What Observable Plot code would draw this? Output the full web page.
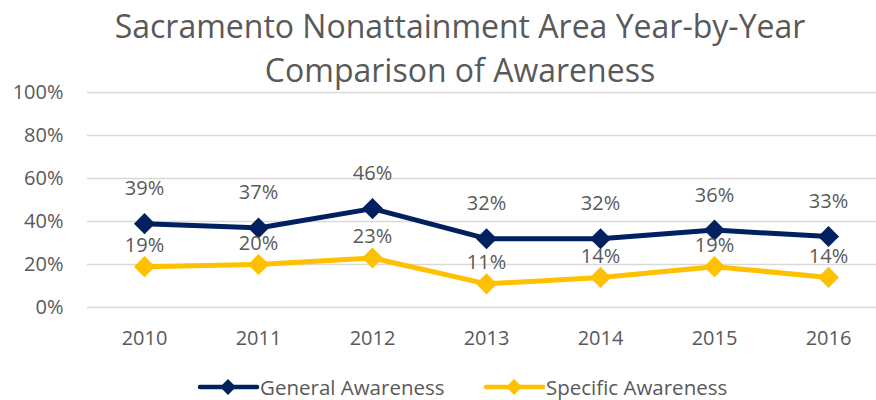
<!DOCTYPE html>
<html><head><meta charset="utf-8">
<script src="https://cdn.jsdelivr.net/npm/d3@7"></script>
<script src="https://cdn.jsdelivr.net/npm/@observablehq/plot@0.6"></script>
<style>body{margin:0;background:#fff}</style>
</head><body><div id="chart"></div><script>
const years = ["2010","2011","2012","2013","2014","2015","2016"];
const generalAwareness = [0.39,0.37,0.46,0.32,0.32,0.36,0.33];
const specificAwareness = [0.19,0.20,0.23,0.11,0.14,0.19,0.14];
const seriesNames = ["General Awareness","Specific Awareness"];
const seriesColors = ["#002060","#FFC000"];
const yTicks = [0,0.2,0.4,0.6,0.8,1];
const titleLines = ["Sacramento Nonattainment Area Year-by-Year","Comparison of Awareness"];

const general = years.map((y,i)=>({year:y, value:generalAwareness[i], series:seriesNames[0]}));
const specific = years.map((y,i)=>({year:y, value:specificAwareness[i], series:seriesNames[1]}));
const data = general.concat(specific);
const pct = d => Math.round(d*100)+"%";
const textColor = "#595959";
const font = "'Open Sans', sans-serif";

const plot = Plot.plot({
  width:876, height:400, marginTop:92, marginBottom:93, marginLeft:87, marginRight:0,
  style:{fontFamily:font, fontSize:"20px", color:textColor, background:"white", overflow:"visible"},
  x:{type:"point", domain:years, range:[144,828], padding:0},
  y:{domain:[0,1]},
  color:{domain:seriesNames, range:seriesColors},
  marks:[
    Plot.ruleY(yTicks,{stroke:"#d9d9d9", strokeWidth:1.5}),
    Plot.axisY({ticks:yTicks, tickFormat:pct, tickSize:0, tickPadding:24, label:null, fill:textColor, fontSize:20}),
    Plot.axisX({tickSize:0, tickPadding:23, label:null, fill:textColor, fontSize:20}),
    Plot.line(data,{x:"year", y:"value", z:"series", stroke:"series", strokeWidth:5}),
    Plot.dot(data,{x:"year", y:"value", fill:"series", symbol:"diamond2", r:9.5, stroke:"none"}),
    Plot.text(general,{x:"year", y:"value", text:d=>pct(d.value), dy:-35, fill:textColor, fontSize:20}),
    Plot.text(specific,{x:"year", y:"value", text:d=>pct(d.value), dy:-21, fill:textColor, fontSize:20})
  ]
});
document.getElementById("chart").appendChild(plot);

const svg = d3.select(plot);
const title = svg.append("g").attr("font-family", font).attr("font-size", 32).attr("fill", textColor).attr("text-anchor","middle");
title.selectAll("text").data(titleLines).join("text")
  .attr("x", 460).attr("y", (d,i)=>38 + i*44).text(d=>d);

const legendX = [200, 486];
const legend = svg.append("g").attr("font-family", font).attr("font-size", 20.5).attr("fill", textColor).attr("text-anchor","start");
seriesNames.forEach((name,i)=>{
  const g = legend.append("g").attr("transform",`translate(${legendX[i]},387)`);
  g.append("line").attr("x1",0).attr("x2",57).attr("stroke",seriesColors[i]).attr("stroke-width",4.5).attr("stroke-linecap","round");
  g.append("path").attr("d", d3.symbol(d3.symbolDiamond2, 165)()).attr("transform","translate(28,0)").attr("fill",seriesColors[i]);
  g.append("text").attr("x",60).attr("y",8).text(name);
});
</script></body></html>
